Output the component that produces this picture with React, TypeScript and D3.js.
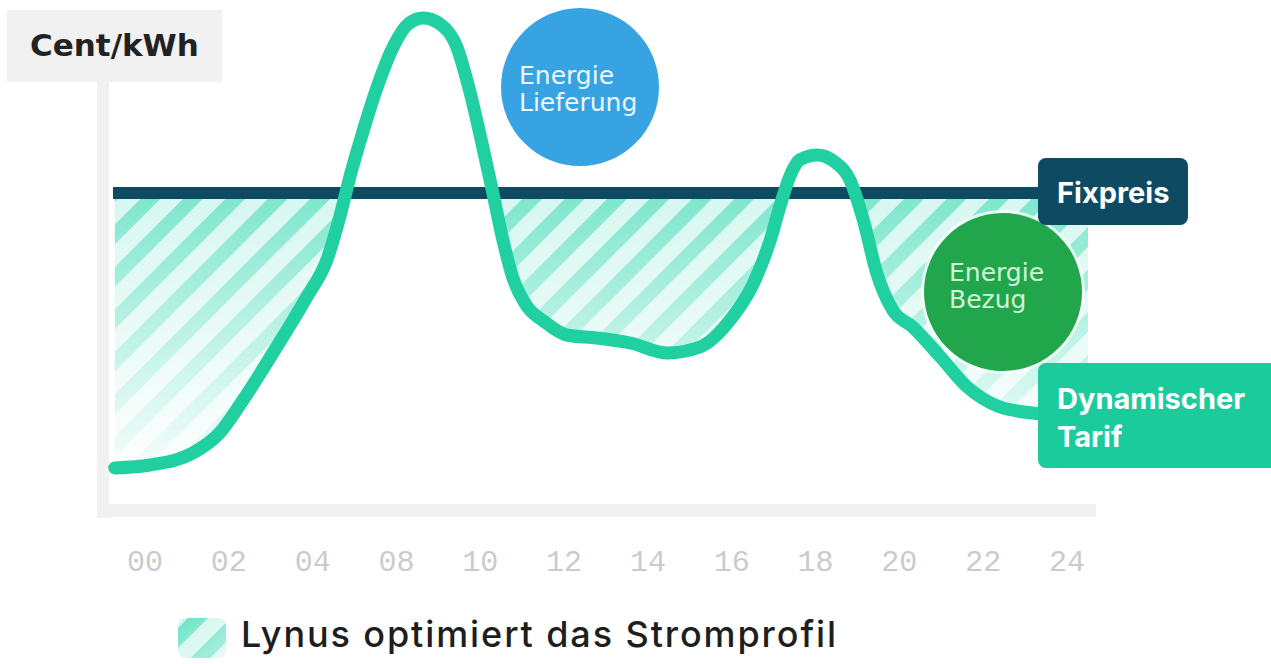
import React, { useRef, useEffect } from 'react';
import * as d3 from 'd3';

// Tick labels as printed under the chart (06 is missing in the original).
const tickLabels = ['00', '02', '04', '08', '10', '12', '14', '16', '18', '20', '22', '24'];

// Dynamic tariff curve: position along the tick row (0 = "00", 11 = "24") and price.
const slot = [
  -0.36, 0.06, 0.57, 0.89, 1.17, 1.57, 1.93, 2.17, 2.33, 2.45, 2.57, 2.77, 2.96, 3.14, 3.32,
  3.52, 3.72, 3.88, 4.03, 4.15, 4.27, 4.39, 4.53, 4.77, 5.03, 5.39, 5.79, 6.23, 6.62, 6.98,
  7.25, 7.46, 7.58, 7.7, 7.81, 8.02, 8.23, 8.41, 8.57, 8.73, 8.92, 9.16, 9.49, 9.81, 10.2,
  10.59, 10.83,
];
const price = [
  8.4, 9.0, 11.4, 15.4, 22.0, 32.6, 42.6, 50.0, 59.0, 67.0, 74.0, 84.6, 92.6, 97.2, 98.4,
  97.2, 92.6, 83.4, 72.6, 63.4, 54.0, 46.4, 41.4, 37.6, 35.0, 34.4, 33.4, 31.4, 32.6, 38.0,
  45.0, 54.0, 61.0, 67.0, 70.0, 71.0, 69.6, 66.0, 58.0, 47.4, 40.0, 36.6, 30.6, 24.6, 20.6,
  19.4, 19.0,
];
const fixPrice = 63.4;
const fillEndSlot = 11.25;

const TEAL = '#20d0a0';
const NAVY = '#0e4a62';

export default function App() {
  const svgRef = useRef<SVGSVGElement>(null);

  useEffect(() => {
    const svg = d3.select(svgRef.current);
    svg.selectAll('*').remove();
    if (!svgRef.current) return;

    const width = 1271;
    const height = 664;
    svg.attr('viewBox', `0 0 ${width} ${height}`);

    const x = d3.scaleLinear().domain([0, tickLabels.length - 1]).range([145, 1067]);
    const y = d3.scaleLinear().domain([0, 100]).range([510, 10]);

    const defs = svg.append('defs');

    // Diagonal stripes for the savings area
    const pat = defs.append('pattern').attr('id', 'stripes')
      .attr('patternUnits', 'userSpaceOnUse').attr('width', 30).attr('height', 30)
      .attr('patternTransform', 'rotate(45)');
    pat.append('rect').attr('width', 30).attr('height', 30).attr('fill', '#d2f6ee');
    pat.append('rect').attr('width', 14).attr('height', 30).attr('fill', '#6ee3c7');

    // Vertical fade of the hatch, strong under the fixed price, almost gone at the bottom
    const grad = defs.append('linearGradient').attr('id', 'fade')
      .attr('gradientUnits', 'userSpaceOnUse')
      .attr('x1', 0).attr('x2', 0).attr('y1', y(fixPrice)).attr('y2', 480);
    grad.append('stop').attr('offset', 0).attr('stop-color', 'white').attr('stop-opacity', 0.9);
    grad.append('stop').attr('offset', 0.55).attr('stop-color', 'white').attr('stop-opacity', 0.4);
    grad.append('stop').attr('offset', 1).attr('stop-color', 'white').attr('stop-opacity', 0.03);
    const mask = defs.append('mask').attr('id', 'fadeMask').attr('maskUnits', 'userSpaceOnUse')
      .attr('x', 0).attr('y', 0).attr('width', width).attr('height', height);
    mask.append('rect').attr('width', width).attr('height', height).attr('fill', 'url(#fade)');

    const legGrad = defs.append('linearGradient').attr('id', 'legFade')
      .attr('x1', 0).attr('x2', 1).attr('y1', 0).attr('y2', 1);
    legGrad.append('stop').attr('offset', 0).attr('stop-color', 'white').attr('stop-opacity', 1);
    legGrad.append('stop').attr('offset', 1).attr('stop-color', 'white').attr('stop-opacity', 0.55);
    const legMask = defs.append('mask').attr('id', 'legMask').attr('maskContentUnits', 'objectBoundingBox');
    legMask.append('rect').attr('width', 1).attr('height', 1).attr('fill', 'url(#legFade)');

    // Axis bands
    svg.append('rect').attr('x', 97).attr('y', 80).attr('width', 12).attr('height', 438).attr('fill', '#f1f1f1');
    svg.append('rect').attr('x', 97).attr('y', 504).attr('width', 999).attr('height', 13).attr('fill', '#f1f1f1');

    // Unit label
    svg.append('rect').attr('x', 7).attr('y', 10).attr('width', 215).attr('height', 72).attr('fill', '#f1f1f1');
    svg.append('text').attr('x', 30).attr('y', 56).attr('fill', '#222')
      .attr('font-family', '"DejaVu Sans", sans-serif').attr('font-weight', 700).attr('font-size', 31)
      .text('Cent/kWh');

    // Savings area: between fixed price and curve where curve is cheaper
    const pts = slot.map((s, i) => [s, price[i]] as [number, number]);
    const fillPts = [...pts, [fillEndSlot, price[price.length - 1]] as [number, number]];
    const area = d3.area<[number, number]>()
      .x((d) => x(d[0]))
      .y0(y(fixPrice))
      .y1((d) => y(Math.min(d[1], fixPrice)))
      .curve(d3.curveMonotoneX);
    svg.append('path').datum(fillPts).attr('d', area)
      .attr('fill', 'url(#stripes)').attr('mask', 'url(#fadeMask)');

    // Fixed price line
    svg.append('line').attr('x1', 113).attr('x2', 1045).attr('y1', y(fixPrice)).attr('y2', y(fixPrice))
      .attr('stroke', NAVY).attr('stroke-width', 12);

    // Dynamic tariff curve
    const line = d3.line<[number, number]>()
      .x((d) => x(d[0]))
      .y((d) => y(d[1]))
      .curve(d3.curveMonotoneX);
    svg.append('path').datum(pts).attr('d', line)
      .attr('fill', 'none').attr('stroke', TEAL).attr('stroke-width', 13)
      .attr('stroke-linecap', 'round').attr('stroke-linejoin', 'round');

    // Bubbles
    const bubble = (cx: number, cy: number, r: number, color: string, txtColor: string, lines: string[], tx: number, ty: number, gap: number) => {
      svg.append('circle').attr('cx', cx).attr('cy', cy).attr('r', r + 3).attr('fill', 'white').attr('fill-opacity', 0.7);
      svg.append('circle').attr('cx', cx).attr('cy', cy).attr('r', r).attr('fill', color);
      lines.forEach((t, i) => {
        svg.append('text').attr('x', tx).attr('y', ty + i * gap).attr('fill', txtColor)
          .attr('font-family', '"DejaVu Sans", sans-serif').attr('font-size', 25).text(t);
      });
    };
    bubble(580, 87, 79, '#37a3e2', '#eef8ff', ['Energie', 'Lieferung'], 519, 84, 27);
    bubble(1003, 292, 79, '#22a64b', '#d2f5da', ['Energie', 'Bezug'], 949, 281, 27);

    // Series labels
    svg.append('rect').attr('x', 1038).attr('y', 158).attr('width', 150).attr('height', 67).attr('rx', 8).attr('fill', NAVY);
    svg.append('text').attr('x', 1057).attr('y', 203).attr('fill', 'white')
      .attr('font-family', 'Inter, sans-serif').attr('font-weight', 700).attr('font-size', 29).text('Fixpreis');

    svg.append('rect').attr('x', 1038).attr('y', 363).attr('width', 240).attr('height', 105).attr('rx', 8).attr('fill', '#1ccb9c');
    ['Dynamischer', 'Tarif'].forEach((t, i) => {
      svg.append('text').attr('x', 1057).attr('y', 409 + i * 38).attr('fill', 'white')
        .attr('font-family', 'Inter, sans-serif').attr('font-weight', 700).attr('font-size', 29).text(t);
    });

    // X labels
    tickLabels.forEach((t, i) => {
      svg.append('text').attr('x', x(i)).attr('y', 571).attr('text-anchor', 'middle')
        .attr('fill', '#cbcbcb').attr('font-family', '"Liberation Mono", monospace')
        .attr('font-size', 30).text(t);
    });

    // Legend
    svg.append('rect').attr('x', 178).attr('y', 618).attr('width', 48).attr('height', 40).attr('rx', 7)
      .attr('fill', 'url(#stripes)').attr('mask', 'url(#legMask)');
    svg.append('text').attr('x', 241).attr('y', 647).attr('fill', '#1e1e1e')
      .attr('font-family', 'Inter, sans-serif').attr('font-weight', 500).attr('font-size', 36)
      .attr('letter-spacing', 1.9)
      .text('Lynus optimiert das Stromprofil');
  }, []);

  return (
    <svg ref={svgRef} width={1271} height={664}
      style={{ position: 'absolute', left: 0, top: 0, background: 'white' }} />
  );
}
